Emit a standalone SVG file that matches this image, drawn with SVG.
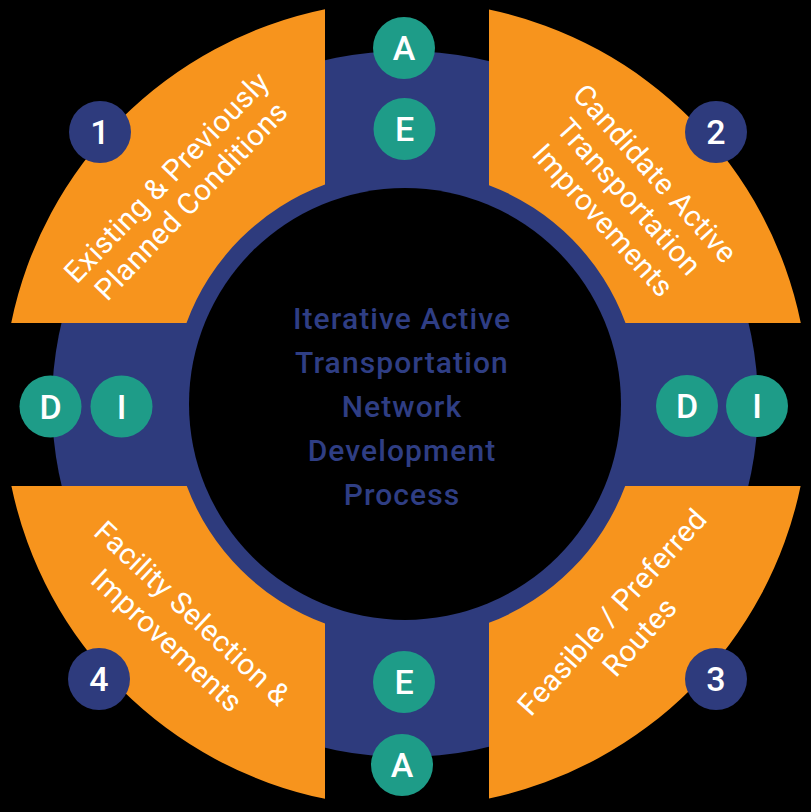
<svg xmlns="http://www.w3.org/2000/svg" width="811" height="812" viewBox="0 0 811 812">
<style>
.navy{fill:#2E3B7D}
.orange{fill:#F7941D}
.teal{fill:#1E9C88}
.lbl{font-family:Roboto,"Liberation Sans",sans-serif;fill:#FFFFFF;text-anchor:middle}
.seg{font-size:29.5px;font-weight:400;letter-spacing:0.4px}
.badge{font-size:34px;font-weight:500}
.num{font-size:34px;font-weight:500}
.title{font-family:Roboto,"Liberation Sans",sans-serif;font-size:30px;font-weight:500;letter-spacing:1.1px;fill:#2F3E84;text-anchor:middle}
</style>
<rect x="0" y="0" width="811" height="812" fill="#000000"/>
<g id="ring">
<circle class="navy" cx="405" cy="404" r="353"/>
<circle cx="405" cy="404" r="216" fill="#000000"/>
</g>
<g id="segment-1">
<path class="orange" d="M325 9.2 A403 403 0 0 0 11.2 323 L186.5 323 A234 234 0 0 1 325 184.5 Z"/>
<text class="lbl seg" transform="translate(179,189) rotate(-46)"><tspan x="0" y="-7">Existing &amp; Previously</tspan><tspan x="0" y="27">Planned Conditions</tspan></text>
<circle class="navy" cx="100" cy="132" r="31"/>
<text class="lbl num" x="100" y="144">1</text>
</g>
<g id="segment-2">
<path class="orange" d="M489 9.6 A403 403 0 0 1 800.8 323 L625.5 323 A234 234 0 0 0 489 185.2 Z"/>
<text class="lbl seg" transform="translate(629,197) rotate(48)"><tspan x="0" y="-25">Candidate Active</tspan><tspan x="0" y="10">Transportation</tspan><tspan x="0" y="45">Improvements</tspan></text>
<circle class="navy" cx="716" cy="132" r="31"/>
<text class="lbl num" x="716" y="144">2</text>
</g>
<g id="segment-3">
<path class="orange" d="M489 798.4 A403 403 0 0 0 800.6 486 L625.2 486 A234 234 0 0 1 489 622.8 Z"/>
<text class="lbl seg" transform="translate(626,624.5) rotate(-48)"><tspan x="0" y="-8.5">Feasible / Preferred</tspan><tspan x="0" y="28.5">Routes</tspan></text>
<circle class="navy" cx="716" cy="679" r="31"/>
<text class="lbl num" x="716" y="691">3</text>
</g>
<g id="segment-4">
<path class="orange" d="M11.4 486 L186.8 486 A234 234 0 0 0 325 623.5 L325 798.8 A403 403 0 0 1 11.4 486 Z"/>
<text class="lbl seg" transform="translate(179.5,627) rotate(43)"><tspan x="0" y="-8.5">Facility Selection &amp;</tspan><tspan x="0" y="28.5">Improvements</tspan></text>
<circle class="navy" cx="99" cy="679" r="31"/>
<text class="lbl num" x="99" y="691">4</text>
</g>
<g id="badge-top-A"><circle class="teal" cx="404" cy="48" r="31"/><text class="lbl badge" x="404" y="60">A</text></g>
<g id="badge-top-E"><circle class="teal" cx="404.5" cy="129" r="31"/><text class="lbl badge" x="404.5" y="141">E</text></g>
<g id="badge-left-D"><circle class="teal" cx="50.5" cy="406.5" r="31"/><text class="lbl badge" x="50.5" y="418.5">D</text></g>
<g id="badge-left-I"><circle class="teal" cx="121.5" cy="406.5" r="31"/><text class="lbl badge" x="121.5" y="418.5">I</text></g>
<g id="badge-right-D"><circle class="teal" cx="687" cy="406" r="31"/><text class="lbl badge" x="687" y="418">D</text></g>
<g id="badge-right-I"><circle class="teal" cx="757" cy="406" r="31"/><text class="lbl badge" x="757" y="418">I</text></g>
<g id="badge-bottom-E"><circle class="teal" cx="404" cy="682" r="31"/><text class="lbl badge" x="404" y="694">E</text></g>
<g id="badge-bottom-A"><circle class="teal" cx="402" cy="765" r="31"/><text class="lbl badge" x="402" y="777">A</text></g>
<g id="center-title">
<text class="title"><tspan x="402" y="329">Iterative Active</tspan><tspan x="402" y="373">Transportation</tspan><tspan x="402" y="417">Network</tspan><tspan x="402" y="461">Development</tspan><tspan x="402" y="505">Process</tspan></text>
</g>
</svg>
